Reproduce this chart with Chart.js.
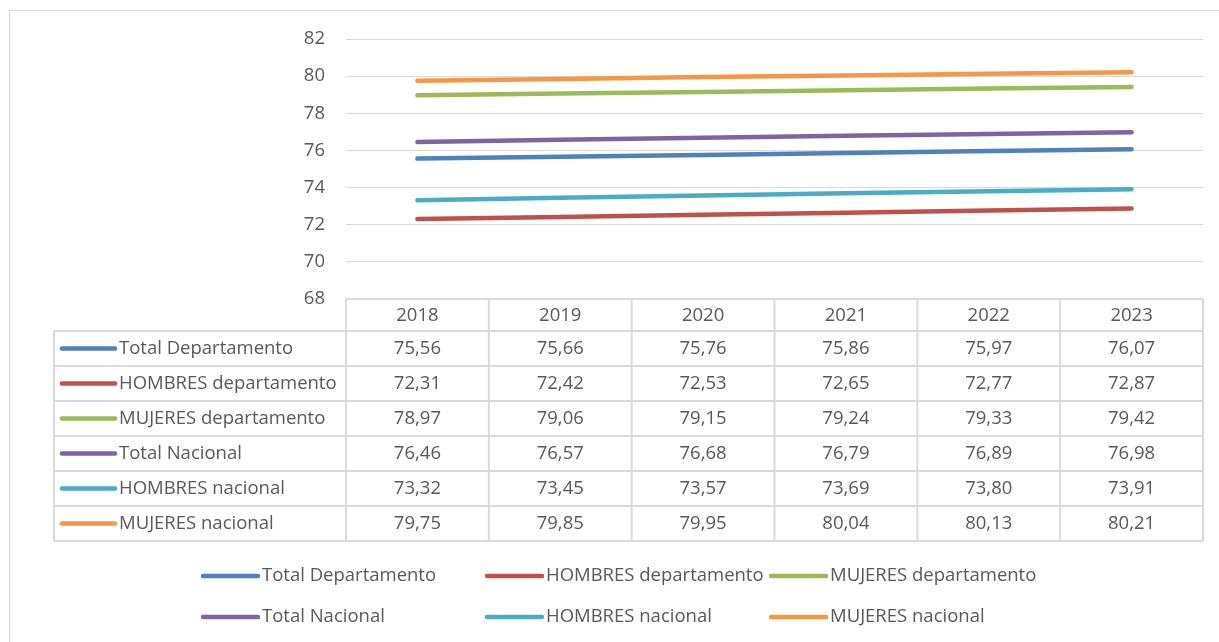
<!DOCTYPE html>
<html>
<head>
<meta charset="utf-8">
<script src="https://cdn.jsdelivr.net/npm/chart.js@4"></script>
<style>
  html, body { margin: 0; padding: 0; background: #fff; }
  canvas { display: block; }
</style>
</head>
<body>
<canvas id="lifeChart" width="1219" height="642"></canvas>
<script>
/* ========= DATA ========= */
const years = ["2018", "2019", "2020", "2021", "2022", "2023"];

const totalDepto   = [75.56, 75.66, 75.76, 75.86, 75.97, 76.07];
const hombresDepto = [72.31, 72.42, 72.53, 72.65, 72.77, 72.87];
const mujeresDepto = [78.97, 79.06, 79.15, 79.24, 79.33, 79.42];
const totalNac     = [76.46, 76.57, 76.68, 76.79, 76.89, 76.98];
const hombresNac   = [73.32, 73.45, 73.57, 73.69, 73.80, 73.91];
const mujeresNac   = [79.75, 79.85, 79.95, 80.04, 80.13, 80.21];

const seriesNames = [
  "Total Departamento", "HOMBRES departamento", "MUJERES departamento",
  "Total Nacional", "HOMBRES nacional", "MUJERES nacional"
];

/* ========= STYLE ========= */
const colors = ["#4f81bd", "#c0504d", "#9bbb59", "#8064a2", "#4bacc6", "#f79646"];
const FONT = "Open Sans";
const FSIZE = 18.5;
const TXT  = "#595959";
const GRID = "#d9d9d9";

const fmt = v => v.toFixed(2).replace(".", ",");

/* ========= DATA TABLE + LEGEND PLUGIN ========= */
const tablePlugin = {
  id: "dataTable",
  afterDraw(chart) {
    const c = chart.ctx;
    const x = chart.scales.x;
    const area = chart.chartArea;
    const colW = x.getPixelForValue(1) - x.getPixelForValue(0);
    const left = 54;
    const top = area.bottom;
    const headH = 32, rowH = 35;
    const bottom = top + headH + rowH * chart.data.datasets.length;

    c.save();

    // outer chart border
    c.strokeStyle = GRID;
    c.lineWidth = 1;
    c.strokeRect(9.5, 10.5, 1240, 660);

    // grid of the table
    c.strokeStyle = "#dadada";
    c.lineWidth = 2;
    c.beginPath();
    c.moveTo(area.left, top); c.lineTo(area.right, top);
    for (let r = 0; r <= chart.data.datasets.length; r++) {
      const yy = top + headH + r * rowH;
      c.moveTo(left, yy); c.lineTo(area.right, yy);
    }
    c.moveTo(left, top + headH); c.lineTo(left, bottom);
    for (let i = 0; i <= years.length; i++) {
      const xx = area.left + i * colW;
      c.moveTo(xx, top); c.lineTo(xx, bottom);
    }
    c.stroke();

    c.font = `${FSIZE}px "${FONT}"`;
    c.fillStyle = TXT;
    c.textBaseline = "middle";
    c.textAlign = "center";

    years.forEach((yr, i) => {
      c.fillText(yr, x.getPixelForValue(i), top + headH / 2 + 1);
    });

    chart.data.datasets.forEach((ds, r) => {
      const cy = top + headH + r * rowH + rowH / 2;
      // marker
      c.strokeStyle = ds.borderColor;
      c.lineWidth = 4.5;
      c.lineCap = "round";
      c.beginPath();
      c.moveTo(62, cy); c.lineTo(115, cy);
      c.stroke();
      c.textAlign = "left";
      c.fillStyle = TXT;
      c.fillText(ds.label, 119, cy);
      c.textAlign = "center";
      ds.data.forEach((v, i) => {
        c.fillText(fmt(v), x.getPixelForValue(i), cy);
      });
    });

    // legend below
    const legX = [203, 487, 771];
    const legY = [576, 617];
    chart.data.datasets.forEach((ds, k) => {
      const lx = legX[k % 3], ly = legY[Math.floor(k / 3)];
      c.strokeStyle = ds.borderColor;
      c.lineWidth = 4.5;
      c.lineCap = "round";
      c.beginPath();
      c.moveTo(lx, ly); c.lineTo(lx + 55, ly);
      c.stroke();
      c.textAlign = "left";
      c.fillStyle = TXT;
      c.fillText(ds.label, lx + 59, ly);
    });

    c.restore();
  }
};

/* ========= CHART ========= */
const seriesData = [totalDepto, hombresDepto, mujeresDepto, totalNac, hombresNac, mujeresNac];

const ctx = document.getElementById("lifeChart").getContext("2d");
const chart = new Chart(ctx, {
  type: "line",
  data: {
    labels: years,
    datasets: seriesData.map((d, i) => ({
      label: seriesNames[i],
      data: d,
      borderColor: colors[i],
      backgroundColor: colors[i],
      borderWidth: 4.5,
      borderCapStyle: "round",
      pointRadius: 0,
      tension: 0,
      fill: false
    }))
  },
  options: {
    responsive: false,
    animation: false,
    layout: { padding: { left: 0, top: 39, right: 16, bottom: 343 } },
    plugins: {
      legend: { display: false },
      tooltip: { enabled: false }
    },
    scales: {
      x: {
        display: false,
        offset: true
      },
      y: {
        min: 68,
        max: 82,
        afterFit(scale) { scale.width = 346; },
        ticks: {
          stepSize: 2,
          color: TXT,
          padding: 21,
          font: { family: FONT, size: FSIZE }
        },
        grid: { color: GRID, lineWidth: 1, drawTicks: false },
        border: { display: false }
      }
    }
  },
  plugins: [tablePlugin]
});
</script>
</body>
</html>
